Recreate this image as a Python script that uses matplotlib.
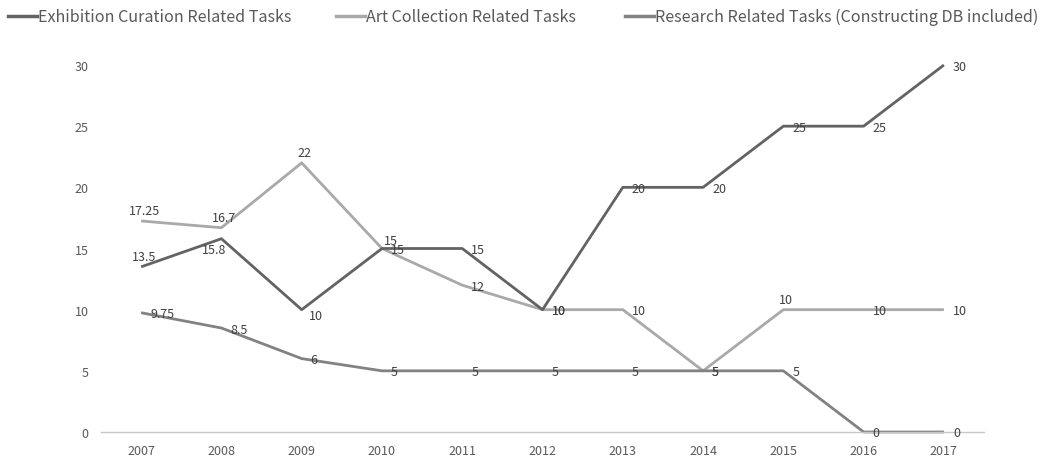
import matplotlib
matplotlib.use("Agg")
import matplotlib.pyplot as plt
from matplotlib.lines import Line2D

plt.rcParams['font.family'] = ['Noto Sans CJK KR', 'DejaVu Sans']

years = [2007, 2008, 2009, 2010, 2011, 2012, 2013, 2014, 2015, 2016, 2017]
exhibition = [13.5, 15.8, 10, 15, 15, 10, 20, 20, 25, 25, 30]
collection = [17.25, 16.7, 22, 15, 12, 10, 10, 5, 10, 10, 10]
research = [9.75, 8.5, 6, 5, 5, 5, 5, 5, 5, 0, 0]

names = ['Exhibition Curation Related Tasks',
         'Art Collection Related Tasks',
         'Research Related Tasks (Constructing DB included)']
colors = ['#636363', '#a9a9a9', '#828282']

# where each value label sits relative to its point
ex_pos = ['a', 'bl', 'br', 'ar', 'r', 'r', 'r', 'r', 'r', 'r', 'r']
col_pos = ['a', 'a', 'a', 'r', 'r', 'r', 'r', 'r', 'a', 'r', 'r']
res_pos = ['r'] * 11
offsets = {'r': (9, -1, 'left'), 'a': (3, 10, 'center'),
           'bl': (-7, -11, 'center'), 'br': (14, -6, 'center'),
           'ar': (9, 8, 'center')}


def fmt(v):
    return ('%g' % v)


fig = plt.figure(figsize=(10.51, 4.6), dpi=100)
ax = fig.add_axes([0.0961, 0.0587, 0.8402, 0.7978])

xs = list(range(len(years)))
for vals, pos, c in [(collection, col_pos, colors[1]),
                     (research, res_pos, colors[2]),
                     (exhibition, ex_pos, colors[0])]:
    ax.plot(xs, vals, color=c, lw=2.0, clip_on=False, solid_capstyle='butt')
    for x, v, p in zip(xs, vals, pos):
        dx, dy, ha = offsets[p]
        ax.annotate(fmt(v), (x, v), xytext=(dx, dy), textcoords='offset pixels',
                    ha=ha, va='center', fontsize=9, color='#404040')

ax.set_xlim(-0.5, len(years) - 0.5)
ax.set_ylim(0, 30)
ax.set_yticks([0, 5, 10, 15, 20, 25, 30])
ax.set_xticks(xs)
ax.set_xticklabels([str(y) for y in years])
ax.tick_params(length=0, labelsize=9, labelcolor='#595959')
ax.tick_params(axis='y', pad=9)
ax.tick_params(axis='x', pad=9)
for s in ['top', 'right', 'left']:
    ax.spines[s].set_visible(False)
ax.spines['bottom'].set_color('#c8c8c8')
ax.spines['bottom'].set_linewidth(1.0)

# legend along the top
leg_x = [8, 336, 625]
ly = 1 - 17 / 460
for x0, name, c in zip(leg_x, names, colors):
    fig.add_artist(Line2D([x0 / 1051, (x0 + 29) / 1051], [ly, ly], color=c, lw=2.5,
                          transform=fig.transFigure))
    fig.text((x0 + 30) / 1051, ly, name, ha='left', va='center',
             fontsize=11.6, color='#595959')

fig.savefig('out.png', dpi=100)
